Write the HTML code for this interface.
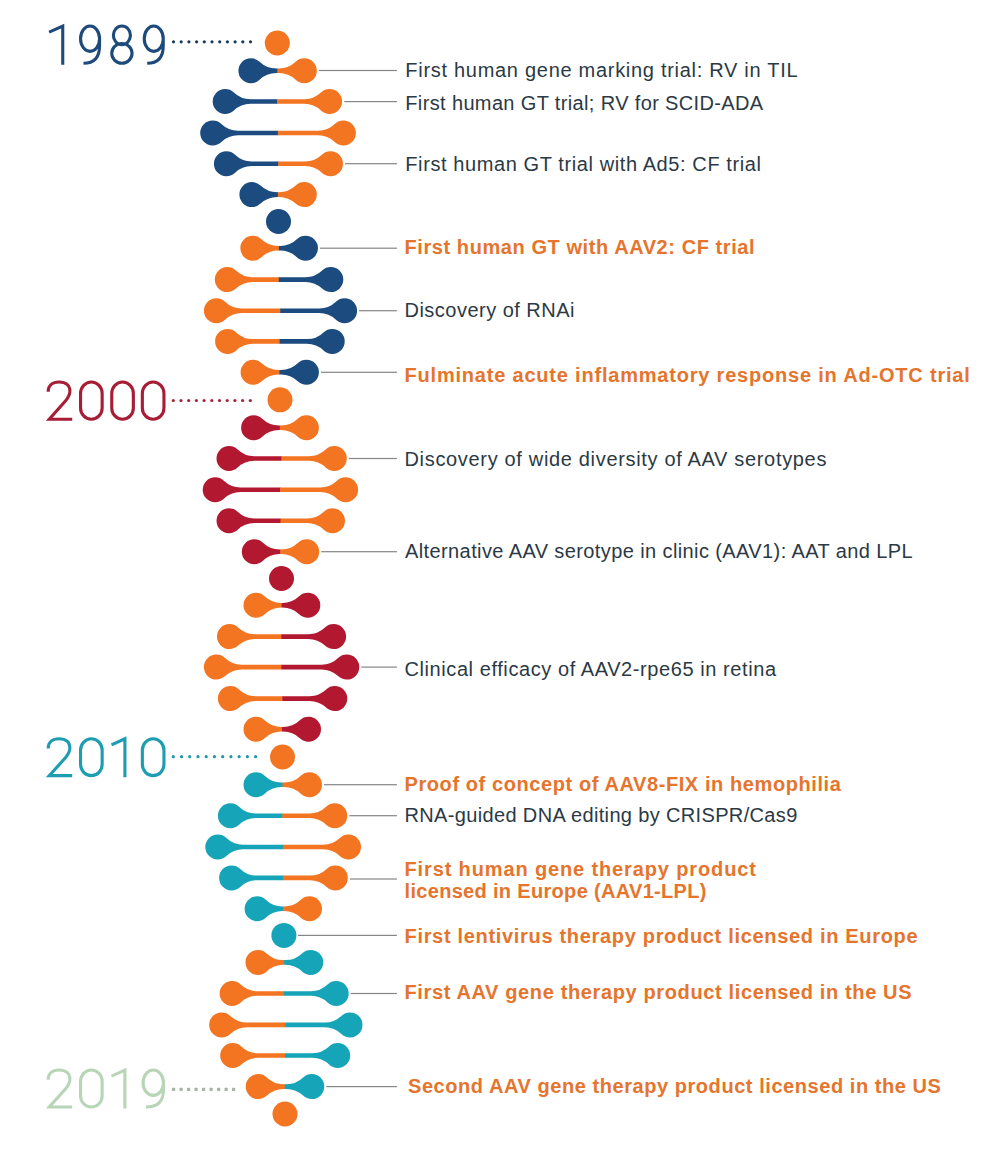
<!DOCTYPE html>
<html><head><meta charset="utf-8"><style>
html,body{margin:0;padding:0;background:#fff;}
body{width:1000px;height:1162px;position:relative;overflow:hidden;font-family:"Liberation Sans",sans-serif;}
svg{position:absolute;left:0;top:0;}
text{font-family:"Liberation Sans",sans-serif;white-space:pre;}
.n{fill:#2b3945;font-size:20px;}
.b{fill:#e5752d;font-weight:bold;font-size:20px;}
.yr{font-size:58px;stroke:#fff;stroke-width:1.6px;paint-order:normal;}
</style></head><body>
<svg width="1000" height="1162" viewBox="0 0 1000 1162">
<path fill="#1b4b7f" d="M277.85,68.50 L276.21,68.50 A24.0,24.0 0 0 1 259.57,61.79 A12.5,12.5 0 1 0 259.57,79.81 A24.0,24.0 0 0 1 276.21,73.10 L277.85,73.10 Z"/>
<path fill="#f37421" d="M277.35,68.50 L278.99,68.50 A24.0,24.0 0 0 0 295.63,61.79 A12.5,12.5 0 1 1 295.63,79.81 A24.0,24.0 0 0 0 278.99,73.10 L277.35,73.10 Z"/>
<path fill="#1b4b7f" d="M277.65,99.20 L250.51,99.20 A24.0,24.0 0 0 1 233.87,92.49 A12.5,12.5 0 1 0 233.87,110.51 A24.0,24.0 0 0 1 250.51,103.80 L277.65,103.80 Z"/>
<path fill="#f37421" d="M277.15,99.20 L304.29,99.20 A24.0,24.0 0 0 0 320.93,92.49 A12.5,12.5 0 1 1 320.93,110.51 A24.0,24.0 0 0 0 304.29,103.80 L277.15,103.80 Z"/>
<path fill="#1b4b7f" d="M278.30,130.70 L238.01,130.70 A24.0,24.0 0 0 1 221.37,123.99 A12.5,12.5 0 1 0 221.37,142.01 A24.0,24.0 0 0 1 238.01,135.30 L278.30,135.30 Z"/>
<path fill="#f37421" d="M277.80,130.70 L318.09,130.70 A24.0,24.0 0 0 0 334.73,123.99 A12.5,12.5 0 1 1 334.73,142.01 A24.0,24.0 0 0 0 318.09,135.30 L277.80,135.30 Z"/>
<path fill="#1b4b7f" d="M278.70,161.40 L251.71,161.40 A24.0,24.0 0 0 1 235.07,154.69 A12.5,12.5 0 1 0 235.07,172.71 A24.0,24.0 0 0 1 251.71,166.00 L278.70,166.00 Z"/>
<path fill="#f37421" d="M278.20,161.40 L305.19,161.40 A24.0,24.0 0 0 0 321.83,154.69 A12.5,12.5 0 1 1 321.83,172.71 A24.0,24.0 0 0 0 305.19,166.00 L278.20,166.00 Z"/>
<path fill="#1b4b7f" d="M278.35,192.30 L277.21,192.30 A24.0,24.0 0 0 1 260.57,185.59 A12.5,12.5 0 1 0 260.57,203.61 A24.0,24.0 0 0 1 277.21,196.90 L278.35,196.90 Z"/>
<path fill="#f37421" d="M277.85,192.30 L278.99,192.30 A24.0,24.0 0 0 0 295.63,185.59 A12.5,12.5 0 1 1 295.63,203.61 A24.0,24.0 0 0 0 278.99,196.90 L277.85,196.90 Z"/>
<path fill="#f37421" d="M279.40,245.90 L278.11,245.90 A24.0,24.0 0 0 1 261.47,239.19 A12.5,12.5 0 1 0 261.47,257.21 A24.0,24.0 0 0 1 278.11,250.50 L279.40,250.50 Z"/>
<path fill="#1b4b7f" d="M278.90,245.90 L280.19,245.90 A24.0,24.0 0 0 0 296.83,239.19 A12.5,12.5 0 1 1 296.83,257.21 A24.0,24.0 0 0 0 280.19,250.50 L278.90,250.50 Z"/>
<path fill="#f37421" d="M279.30,277.30 L252.61,277.30 A24.0,24.0 0 0 1 235.97,270.59 A12.5,12.5 0 1 0 235.97,288.61 A24.0,24.0 0 0 1 252.61,281.90 L279.30,281.90 Z"/>
<path fill="#1b4b7f" d="M278.80,277.30 L305.49,277.30 A24.0,24.0 0 0 0 322.13,270.59 A12.5,12.5 0 1 1 322.13,288.61 A24.0,24.0 0 0 0 305.49,281.90 L278.80,281.90 Z"/>
<path fill="#f37421" d="M280.75,308.40 L241.71,308.40 A24.0,24.0 0 0 1 225.07,301.69 A12.5,12.5 0 1 0 225.07,319.71 A24.0,24.0 0 0 1 241.71,313.00 L280.75,313.00 Z"/>
<path fill="#1b4b7f" d="M280.25,308.40 L319.29,308.40 A24.0,24.0 0 0 0 335.93,301.69 A12.5,12.5 0 1 1 335.93,319.71 A24.0,24.0 0 0 0 319.29,313.00 L280.25,313.00 Z"/>
<path fill="#f37421" d="M280.15,339.10 L252.91,339.10 A24.0,24.0 0 0 1 236.27,332.39 A12.5,12.5 0 1 0 236.27,350.41 A24.0,24.0 0 0 1 252.91,343.70 L280.15,343.70 Z"/>
<path fill="#1b4b7f" d="M279.65,339.10 L306.89,339.10 A24.0,24.0 0 0 0 323.53,332.39 A12.5,12.5 0 1 1 323.53,350.41 A24.0,24.0 0 0 0 306.89,343.70 L279.65,343.70 Z"/>
<path fill="#f37421" d="M280.00,370.00 L278.41,370.00 A24.0,24.0 0 0 1 261.77,363.29 A12.5,12.5 0 1 0 261.77,381.31 A24.0,24.0 0 0 1 278.41,374.60 L280.00,374.60 Z"/>
<path fill="#1b4b7f" d="M279.50,370.00 L281.09,370.00 A24.0,24.0 0 0 0 297.73,363.29 A12.5,12.5 0 1 1 297.73,381.31 A24.0,24.0 0 0 0 281.09,374.60 L279.50,374.60 Z"/>
<path fill="#b2182f" d="M280.25,425.50 L278.91,425.50 A24.0,24.0 0 0 1 262.27,418.79 A12.5,12.5 0 1 0 262.27,436.81 A24.0,24.0 0 0 1 278.91,430.10 L280.25,430.10 Z"/>
<path fill="#f37421" d="M279.75,425.50 L281.09,425.50 A24.0,24.0 0 0 0 297.73,418.79 A12.5,12.5 0 1 1 297.73,436.81 A24.0,24.0 0 0 0 281.09,430.10 L279.75,430.10 Z"/>
<path fill="#b2182f" d="M281.90,456.20 L254.31,456.20 A24.0,24.0 0 0 1 237.67,449.49 A12.5,12.5 0 1 0 237.67,467.51 A24.0,24.0 0 0 1 254.31,460.80 L281.90,460.80 Z"/>
<path fill="#f37421" d="M281.40,456.20 L308.99,456.20 A24.0,24.0 0 0 0 325.63,449.49 A12.5,12.5 0 1 1 325.63,467.51 A24.0,24.0 0 0 0 308.99,460.80 L281.40,460.80 Z"/>
<path fill="#b2182f" d="M280.65,487.50 L240.51,487.50 A24.0,24.0 0 0 1 223.87,480.79 A12.5,12.5 0 1 0 223.87,498.81 A24.0,24.0 0 0 1 240.51,492.10 L280.65,492.10 Z"/>
<path fill="#f37421" d="M280.15,487.50 L320.29,487.50 A24.0,24.0 0 0 0 336.93,480.79 A12.5,12.5 0 1 1 336.93,498.81 A24.0,24.0 0 0 0 320.29,492.10 L280.15,492.10 Z"/>
<path fill="#b2182f" d="M281.00,518.40 L254.31,518.40 A24.0,24.0 0 0 1 237.67,511.69 A12.5,12.5 0 1 0 237.67,529.71 A24.0,24.0 0 0 1 254.31,523.00 L281.00,523.00 Z"/>
<path fill="#f37421" d="M280.50,518.40 L307.19,518.40 A24.0,24.0 0 0 0 323.83,511.69 A12.5,12.5 0 1 1 323.83,529.71 A24.0,24.0 0 0 0 307.19,523.00 L280.50,523.00 Z"/>
<path fill="#b2182f" d="M280.75,549.40 L279.61,549.40 A24.0,24.0 0 0 1 262.97,542.69 A12.5,12.5 0 1 0 262.97,560.71 A24.0,24.0 0 0 1 279.61,554.00 L280.75,554.00 Z"/>
<path fill="#f37421" d="M280.25,549.40 L281.39,549.40 A24.0,24.0 0 0 0 298.03,542.69 A12.5,12.5 0 1 1 298.03,560.71 A24.0,24.0 0 0 0 281.39,554.00 L280.25,554.00 Z"/>
<path fill="#f37421" d="M282.15,602.90 L281.31,602.90 A24.0,24.0 0 0 1 264.67,596.19 A12.5,12.5 0 1 0 264.67,614.21 A24.0,24.0 0 0 1 281.31,607.50 L282.15,607.50 Z"/>
<path fill="#b2182f" d="M281.65,602.90 L282.49,602.90 A24.0,24.0 0 0 0 299.13,596.19 A12.5,12.5 0 1 1 299.13,614.21 A24.0,24.0 0 0 0 282.49,607.50 L281.65,607.50 Z"/>
<path fill="#f37421" d="M281.80,634.30 L254.81,634.30 A24.0,24.0 0 0 1 238.17,627.59 A12.5,12.5 0 1 0 238.17,645.61 A24.0,24.0 0 0 1 254.81,638.90 L281.80,638.90 Z"/>
<path fill="#b2182f" d="M281.30,634.30 L308.29,634.30 A24.0,24.0 0 0 0 324.93,627.59 A12.5,12.5 0 1 1 324.93,645.61 A24.0,24.0 0 0 0 308.29,638.90 L281.30,638.90 Z"/>
<path fill="#f37421" d="M281.85,664.80 L241.71,664.80 A24.0,24.0 0 0 1 225.07,658.09 A12.5,12.5 0 1 0 225.07,676.11 A24.0,24.0 0 0 1 241.71,669.40 L281.85,669.40 Z"/>
<path fill="#b2182f" d="M281.35,664.80 L321.49,664.80 A24.0,24.0 0 0 0 338.13,658.09 A12.5,12.5 0 1 1 338.13,676.11 A24.0,24.0 0 0 0 321.49,669.40 L281.35,669.40 Z"/>
<path fill="#f37421" d="M282.85,696.30 L255.71,696.30 A24.0,24.0 0 0 1 239.07,689.59 A12.5,12.5 0 1 0 239.07,707.61 A24.0,24.0 0 0 1 255.71,700.90 L282.85,700.90 Z"/>
<path fill="#b2182f" d="M282.35,696.30 L309.49,696.30 A24.0,24.0 0 0 0 326.13,689.59 A12.5,12.5 0 1 1 326.13,707.61 A24.0,24.0 0 0 0 309.49,700.90 L282.35,700.90 Z"/>
<path fill="#f37421" d="M282.50,727.00 L281.31,727.00 A24.0,24.0 0 0 1 264.67,720.29 A12.5,12.5 0 1 0 264.67,738.31 A24.0,24.0 0 0 1 281.31,731.60 L282.50,731.60 Z"/>
<path fill="#b2182f" d="M282.00,727.00 L283.19,727.00 A24.0,24.0 0 0 0 299.83,720.29 A12.5,12.5 0 1 1 299.83,738.31 A24.0,24.0 0 0 0 283.19,731.60 L282.00,731.60 Z"/>
<path fill="#16a5b8" d="M283.00,782.40 L281.31,782.40 A24.0,24.0 0 0 1 264.67,775.69 A12.5,12.5 0 1 0 264.67,793.71 A24.0,24.0 0 0 1 281.31,787.00 L283.00,787.00 Z"/>
<path fill="#f37421" d="M282.50,782.40 L284.19,782.40 A24.0,24.0 0 0 0 300.83,775.69 A12.5,12.5 0 1 1 300.83,793.71 A24.0,24.0 0 0 0 284.19,787.00 L282.50,787.00 Z"/>
<path fill="#16a5b8" d="M282.85,813.40 L255.71,813.40 A24.0,24.0 0 0 1 239.07,806.69 A12.5,12.5 0 1 0 239.07,824.71 A24.0,24.0 0 0 1 255.71,818.00 L282.85,818.00 Z"/>
<path fill="#f37421" d="M282.35,813.40 L309.49,813.40 A24.0,24.0 0 0 0 326.13,806.69 A12.5,12.5 0 1 1 326.13,824.71 A24.0,24.0 0 0 0 309.49,818.00 L282.35,818.00 Z"/>
<path fill="#16a5b8" d="M283.40,844.70 L243.11,844.70 A24.0,24.0 0 0 1 226.47,837.99 A12.5,12.5 0 1 0 226.47,856.01 A24.0,24.0 0 0 1 243.11,849.30 L283.40,849.30 Z"/>
<path fill="#f37421" d="M282.90,844.70 L323.19,844.70 A24.0,24.0 0 0 0 339.83,837.99 A12.5,12.5 0 1 1 339.83,856.01 A24.0,24.0 0 0 0 323.19,849.30 L282.90,849.30 Z"/>
<path fill="#16a5b8" d="M283.70,875.60 L256.91,875.60 A24.0,24.0 0 0 1 240.27,868.89 A12.5,12.5 0 1 0 240.27,886.91 A24.0,24.0 0 0 1 256.91,880.20 L283.70,880.20 Z"/>
<path fill="#f37421" d="M283.20,875.60 L309.99,875.60 A24.0,24.0 0 0 0 326.63,868.89 A12.5,12.5 0 1 1 326.63,886.91 A24.0,24.0 0 0 0 309.99,880.20 L283.20,880.20 Z"/>
<path fill="#16a5b8" d="M283.55,906.50 L282.41,906.50 A24.0,24.0 0 0 1 265.77,899.79 A12.5,12.5 0 1 0 265.77,917.81 A24.0,24.0 0 0 1 282.41,911.10 L283.55,911.10 Z"/>
<path fill="#f37421" d="M283.05,906.50 L284.19,906.50 A24.0,24.0 0 0 0 300.83,899.79 A12.5,12.5 0 1 1 300.83,917.81 A24.0,24.0 0 0 0 284.19,911.10 L283.05,911.10 Z"/>
<path fill="#f37421" d="M284.60,960.10 L283.31,960.10 A24.0,24.0 0 0 1 266.67,953.39 A12.5,12.5 0 1 0 266.67,971.41 A24.0,24.0 0 0 1 283.31,964.70 L284.60,964.70 Z"/>
<path fill="#16a5b8" d="M284.10,960.10 L285.39,960.10 A24.0,24.0 0 0 0 302.03,953.39 A12.5,12.5 0 1 1 302.03,971.41 A24.0,24.0 0 0 0 285.39,964.70 L284.10,964.70 Z"/>
<path fill="#f37421" d="M284.40,991.20 L257.41,991.20 A24.0,24.0 0 0 1 240.77,984.49 A12.5,12.5 0 1 0 240.77,1002.51 A24.0,24.0 0 0 1 257.41,995.80 L284.40,995.80 Z"/>
<path fill="#16a5b8" d="M283.90,991.20 L310.89,991.20 A24.0,24.0 0 0 0 327.53,984.49 A12.5,12.5 0 1 1 327.53,1002.51 A24.0,24.0 0 0 0 310.89,995.80 L283.90,995.80 Z"/>
<path fill="#f37421" d="M286.10,1022.60 L247.01,1022.60 A24.0,24.0 0 0 1 230.37,1015.89 A12.5,12.5 0 1 0 230.37,1033.91 A24.0,24.0 0 0 1 247.01,1027.20 L286.10,1027.20 Z"/>
<path fill="#16a5b8" d="M285.60,1022.60 L324.69,1022.60 A24.0,24.0 0 0 0 341.33,1015.89 A12.5,12.5 0 1 1 341.33,1033.91 A24.0,24.0 0 0 0 324.69,1027.20 L285.60,1027.20 Z"/>
<path fill="#f37421" d="M285.45,1053.20 L258.01,1053.20 A24.0,24.0 0 0 1 241.37,1046.49 A12.5,12.5 0 1 0 241.37,1064.51 A24.0,24.0 0 0 1 258.01,1057.80 L285.45,1057.80 Z"/>
<path fill="#16a5b8" d="M284.95,1053.20 L312.39,1053.20 A24.0,24.0 0 0 0 329.03,1046.49 A12.5,12.5 0 1 1 329.03,1064.51 A24.0,24.0 0 0 0 312.39,1057.80 L284.95,1057.80 Z"/>
<path fill="#f37421" d="M285.25,1084.30 L283.51,1084.30 A24.0,24.0 0 0 1 266.87,1077.59 A12.5,12.5 0 1 0 266.87,1095.61 A24.0,24.0 0 0 1 283.51,1088.90 L285.25,1088.90 Z"/>
<path fill="#16a5b8" d="M284.75,1084.30 L286.49,1084.30 A24.0,24.0 0 0 0 303.13,1077.59 A12.5,12.5 0 1 1 303.13,1095.61 A24.0,24.0 0 0 0 286.49,1088.90 L284.75,1088.90 Z"/>
<circle cx="277.3" cy="43.0" r="12.5" fill="#f37421"/>
<circle cx="278.5" cy="221.5" r="12.5" fill="#1b4b7f"/>
<circle cx="280.0" cy="399.8" r="12.5" fill="#f37421"/>
<circle cx="281.5" cy="578.5" r="12.5" fill="#b2182f"/>
<circle cx="282.5" cy="757.0" r="12.5" fill="#f37421"/>
<circle cx="283.9" cy="935.4" r="12.5" fill="#16a5b8"/>
<circle cx="285.0" cy="1114.0" r="12.5" fill="#f37421"/>
<rect x="318.8" y="69.90" width="78.10" height="1.2" fill="#858585"/>
<rect x="344.3" y="101.00" width="52.60" height="1.2" fill="#858585"/>
<rect x="345.0" y="163.10" width="51.90" height="1.2" fill="#858585"/>
<rect x="320.0" y="247.60" width="76.90" height="1.2" fill="#858585"/>
<rect x="359.0" y="310.10" width="37.90" height="1.2" fill="#858585"/>
<rect x="321.0" y="371.70" width="75.90" height="1.2" fill="#858585"/>
<rect x="348.8" y="457.90" width="48.10" height="1.2" fill="#858585"/>
<rect x="321.2" y="551.10" width="75.70" height="1.2" fill="#858585"/>
<rect x="361.3" y="666.50" width="35.60" height="1.2" fill="#858585"/>
<rect x="324.0" y="784.10" width="72.90" height="1.2" fill="#858585"/>
<rect x="349.3" y="815.10" width="47.60" height="1.2" fill="#858585"/>
<rect x="349.8" y="878.40" width="47.10" height="1.2" fill="#858585"/>
<rect x="298.0" y="934.80" width="98.90" height="1.2" fill="#858585"/>
<rect x="350.7" y="992.90" width="46.20" height="1.2" fill="#858585"/>
<rect x="326.3" y="1086.00" width="70.60" height="1.2" fill="#858585"/>
<circle cx="173.50" cy="41.8" r="1.6" fill="#183a5e"/>
<circle cx="181.20" cy="41.8" r="1.6" fill="#183a5e"/>
<circle cx="188.90" cy="41.8" r="1.6" fill="#183a5e"/>
<circle cx="196.60" cy="41.8" r="1.6" fill="#183a5e"/>
<circle cx="204.30" cy="41.8" r="1.6" fill="#183a5e"/>
<circle cx="212.00" cy="41.8" r="1.6" fill="#183a5e"/>
<circle cx="219.70" cy="41.8" r="1.6" fill="#183a5e"/>
<circle cx="227.40" cy="41.8" r="1.6" fill="#183a5e"/>
<circle cx="235.10" cy="41.8" r="1.6" fill="#183a5e"/>
<circle cx="242.80" cy="41.8" r="1.6" fill="#183a5e"/>
<circle cx="250.50" cy="41.8" r="1.6" fill="#183a5e"/>
<circle cx="173.30" cy="400.5" r="1.6" fill="#a52338"/>
<circle cx="181.00" cy="400.5" r="1.6" fill="#a52338"/>
<circle cx="188.70" cy="400.5" r="1.6" fill="#a52338"/>
<circle cx="196.40" cy="400.5" r="1.6" fill="#a52338"/>
<circle cx="204.10" cy="400.5" r="1.6" fill="#a52338"/>
<circle cx="211.80" cy="400.5" r="1.6" fill="#a52338"/>
<circle cx="219.50" cy="400.5" r="1.6" fill="#a52338"/>
<circle cx="227.20" cy="400.5" r="1.6" fill="#a52338"/>
<circle cx="234.90" cy="400.5" r="1.6" fill="#a52338"/>
<circle cx="242.60" cy="400.5" r="1.6" fill="#a52338"/>
<circle cx="250.30" cy="400.5" r="1.6" fill="#a52338"/>
<circle cx="173.30" cy="756.7" r="1.6" fill="#1f98a8"/>
<circle cx="181.53" cy="756.7" r="1.6" fill="#1f98a8"/>
<circle cx="189.76" cy="756.7" r="1.6" fill="#1f98a8"/>
<circle cx="197.99" cy="756.7" r="1.6" fill="#1f98a8"/>
<circle cx="206.22" cy="756.7" r="1.6" fill="#1f98a8"/>
<circle cx="214.45" cy="756.7" r="1.6" fill="#1f98a8"/>
<circle cx="222.68" cy="756.7" r="1.6" fill="#1f98a8"/>
<circle cx="230.91" cy="756.7" r="1.6" fill="#1f98a8"/>
<circle cx="239.14" cy="756.7" r="1.6" fill="#1f98a8"/>
<circle cx="247.37" cy="756.7" r="1.6" fill="#1f98a8"/>
<circle cx="255.60" cy="756.7" r="1.6" fill="#1f98a8"/>
<rect x="172.00" y="1087.80" width="3.2" height="3.2" rx="0.7" fill="#a6b3a6"/>
<rect x="179.50" y="1087.80" width="3.2" height="3.2" rx="0.7" fill="#a6b3a6"/>
<rect x="187.00" y="1087.80" width="3.2" height="3.2" rx="0.7" fill="#a6b3a6"/>
<rect x="194.50" y="1087.80" width="3.2" height="3.2" rx="0.7" fill="#a6b3a6"/>
<rect x="202.00" y="1087.80" width="3.2" height="3.2" rx="0.7" fill="#a6b3a6"/>
<rect x="209.50" y="1087.80" width="3.2" height="3.2" rx="0.7" fill="#a6b3a6"/>
<rect x="217.00" y="1087.80" width="3.2" height="3.2" rx="0.7" fill="#a6b3a6"/>
<rect x="224.50" y="1087.80" width="3.2" height="3.2" rx="0.7" fill="#a6b3a6"/>
<rect x="232.00" y="1087.80" width="3.2" height="3.2" rx="0.7" fill="#a6b3a6"/>
<text class="n" x="405.30" y="76.5" letter-spacing="0.710">First human gene marking trial: RV in TIL</text>
<text class="n" x="405.30" y="109.5" letter-spacing="0.361">First human GT trial; RV for SCID-ADA</text>
<text class="n" x="405.30" y="170.5" letter-spacing="0.595">First human GT trial with Ad5: CF trial</text>
<text class="b" x="404.50" y="253.8" letter-spacing="0.575">First human GT with AAV2: CF trial</text>
<text class="n" x="404.50" y="316.8" letter-spacing="0.480">Discovery of RNAi</text>
<text class="b" x="404.50" y="381.5" letter-spacing="0.798">Fulminate acute inflammatory response in Ad-OTC trial</text>
<text class="n" x="404.50" y="466.2" letter-spacing="0.669">Discovery of wide diversity of AAV serotypes</text>
<text class="n" x="405.00" y="557.5" letter-spacing="0.396">Alternative AAV serotype in clinic (AAV1): AAT and LPL</text>
<text class="n" x="404.50" y="676.0" letter-spacing="0.580">Clinical efficacy of AAV2-rpe65 in retina</text>
<text class="b" x="404.50" y="790.5" letter-spacing="0.589">Proof of concept of AAV8-FIX in hemophilia</text>
<text class="n" x="404.50" y="821.5" letter-spacing="0.351">RNA-guided DNA editing by CRISPR/Cas9</text>
<text class="b" x="404.50" y="875.6" letter-spacing="0.867">First human gene therapy product</text>
<text class="b" x="404.50" y="897.6" letter-spacing="0.320">licensed in Europe (AAV1-LPL)</text>
<text class="b" x="404.50" y="942.8" letter-spacing="0.683">First lentivirus therapy product licensed in Europe</text>
<text class="b" x="404.50" y="999.0" letter-spacing="0.630">First AAV gene therapy product licensed in the US</text>
<text class="b" x="408.00" y="1092.5" letter-spacing="0.556">Second AAV gene therapy product licensed in the US</text>
<path d="M49.10,32.10 L62.75,26.05 L62.75,64.80" fill="none" stroke="#1d4a7b" stroke-width="3.1" stroke-linejoin="miter"/>
<path d="M80.55,38.70 A9.50,12.65 0 1 0 99.55,38.70 A9.50,12.65 0 1 0 80.55,38.70 Z M99.55,36.70 L99.55,45.70 C99.55,58.80 93.05,63.25 83.50,63.25" fill="none" stroke="#1d4a7b" stroke-width="3.1" stroke-linejoin="miter"/>
<path d="M113.35,35.35 A8.55,9.30 0 1 0 130.45,35.35 A8.55,9.30 0 1 0 113.35,35.35 Z M111.75,53.35 A10.15,9.90 0 1 0 132.05,53.35 A10.15,9.90 0 1 0 111.75,53.35 Z" fill="none" stroke="#1d4a7b" stroke-width="3.1" stroke-linejoin="miter"/>
<path d="M144.25,38.70 A9.50,12.65 0 1 0 163.25,38.70 A9.50,12.65 0 1 0 144.25,38.70 Z M163.25,36.70 L163.25,45.70 C163.25,58.80 156.75,63.25 147.20,63.25" fill="none" stroke="#1d4a7b" stroke-width="3.1" stroke-linejoin="miter"/>
<path d="M48.15,391.70 C48.15,385.50 52.70,382.05 59.10,382.05 C65.80,382.05 69.90,385.70 69.90,391.10 C69.90,395.10 68.00,398.10 65.40,401.10 L49.25,419.25 L72.20,419.25" fill="none" stroke="#a71d35" stroke-width="3.1" stroke-linejoin="miter"/>
<path d="M80.55,393.39 C80.55,387.13 85.39,382.05 91.35,382.05 C97.31,382.05 102.15,387.13 102.15,393.39 L102.15,407.91 C102.15,414.17 97.31,419.25 91.35,419.25 C85.39,419.25 80.55,414.17 80.55,407.91 Z" fill="none" stroke="#a71d35" stroke-width="3.1" stroke-linejoin="miter"/>
<path d="M111.75,393.39 C111.75,387.13 116.59,382.05 122.55,382.05 C128.51,382.05 133.35,387.13 133.35,393.39 L133.35,407.91 C133.35,414.17 128.51,419.25 122.55,419.25 C116.59,419.25 111.75,414.17 111.75,407.91 Z" fill="none" stroke="#a71d35" stroke-width="3.1" stroke-linejoin="miter"/>
<path d="M142.35,393.39 C142.35,387.13 147.19,382.05 153.15,382.05 C159.11,382.05 163.95,387.13 163.95,393.39 L163.95,407.91 C163.95,414.17 159.11,419.25 153.15,419.25 C147.19,419.25 142.35,414.17 142.35,407.91 Z" fill="none" stroke="#a71d35" stroke-width="3.1" stroke-linejoin="miter"/>
<path d="M48.15,748.40 C48.15,742.20 52.70,738.75 59.10,738.75 C65.80,738.75 69.90,742.40 69.90,747.80 C69.90,751.80 68.00,754.80 65.40,757.80 L49.25,775.65 L72.20,775.65" fill="none" stroke="#1e9cb0" stroke-width="3.1" stroke-linejoin="miter"/>
<path d="M80.55,750.09 C80.55,743.83 85.39,738.75 91.35,738.75 C97.31,738.75 102.15,743.83 102.15,750.09 L102.15,764.31 C102.15,770.57 97.31,775.65 91.35,775.65 C85.39,775.65 80.55,770.57 80.55,764.31 Z" fill="none" stroke="#1e9cb0" stroke-width="3.1" stroke-linejoin="miter"/>
<path d="M111.50,744.80 L124.90,738.75 L124.90,777.20" fill="none" stroke="#1e9cb0" stroke-width="3.1" stroke-linejoin="miter"/>
<path d="M142.35,750.09 C142.35,743.83 147.19,738.75 153.15,738.75 C159.11,738.75 163.95,743.83 163.95,750.09 L163.95,764.31 C163.95,770.57 159.11,775.65 153.15,775.65 C147.19,775.65 142.35,770.57 142.35,764.31 Z" fill="none" stroke="#1e9cb0" stroke-width="3.1" stroke-linejoin="miter"/>
<path d="M48.15,1079.70 C48.15,1073.50 52.70,1070.05 59.10,1070.05 C65.80,1070.05 69.90,1073.70 69.90,1079.10 C69.90,1083.10 68.00,1086.10 65.40,1089.10 L49.25,1107.05 L72.20,1107.05" fill="none" stroke="#b8d5b7" stroke-width="3.1" stroke-linejoin="miter"/>
<path d="M80.55,1081.39 C80.55,1075.13 85.39,1070.05 91.35,1070.05 C97.31,1070.05 102.15,1075.13 102.15,1081.39 L102.15,1095.71 C102.15,1101.97 97.31,1107.05 91.35,1107.05 C85.39,1107.05 80.55,1101.97 80.55,1095.71 Z" fill="none" stroke="#b8d5b7" stroke-width="3.1" stroke-linejoin="miter"/>
<path d="M111.50,1076.10 L124.90,1070.05 L124.90,1108.60" fill="none" stroke="#b8d5b7" stroke-width="3.1" stroke-linejoin="miter"/>
<path d="M143.05,1082.70 A10.20,12.65 0 1 0 163.45,1082.70 A10.20,12.65 0 1 0 143.05,1082.70 Z M163.45,1080.70 L163.45,1089.70 C163.45,1102.60 156.95,1107.05 146.00,1107.05" fill="none" stroke="#b8d5b7" stroke-width="3.1" stroke-linejoin="miter"/>
</svg>


</body></html>
